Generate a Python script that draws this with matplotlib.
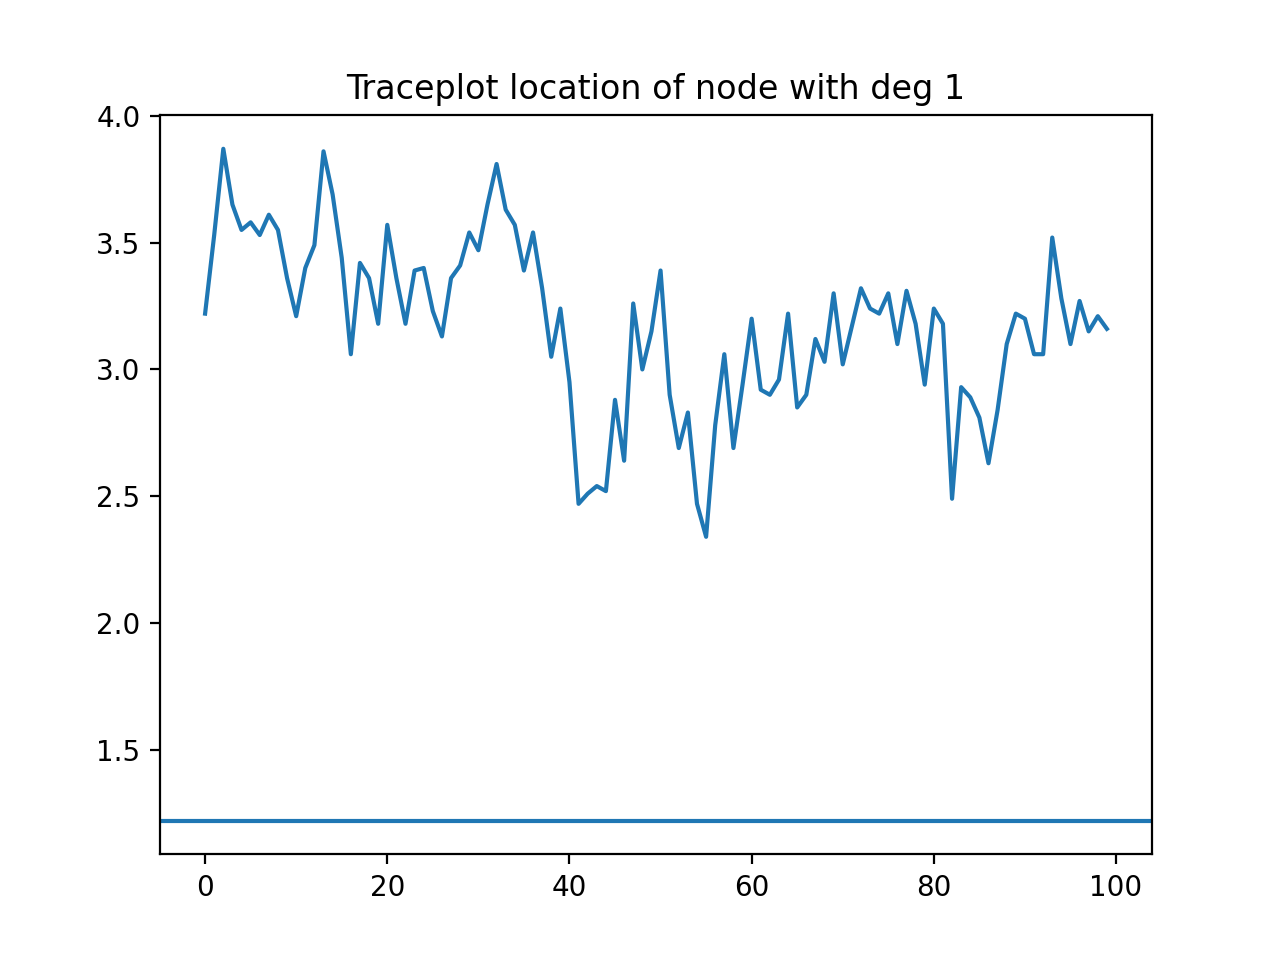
import matplotlib
matplotlib.use("Agg")
import matplotlib.pyplot as plt
import numpy as np

trace = [3.22, 3.53, 3.87, 3.65, 3.55, 3.58, 3.53, 3.61, 3.55, 3.36,
         3.21, 3.40, 3.49, 3.86, 3.69, 3.44, 3.06, 3.42, 3.36, 3.18,
         3.57, 3.36, 3.18, 3.39, 3.40, 3.23, 3.13, 3.36, 3.41, 3.54,
         3.47, 3.65, 3.81, 3.63, 3.57, 3.39, 3.54, 3.32, 3.05, 3.24,
         2.95, 2.47, 2.51, 2.54, 2.52, 2.88, 2.64, 3.26, 3.00, 3.15,
         3.39, 2.90, 2.69, 2.83, 2.47, 2.34, 2.78, 3.06, 2.69, 2.94,
         3.20, 2.92, 2.90, 2.96, 3.22, 2.85, 2.90, 3.12, 3.03, 3.30,
         3.02, 3.17, 3.32, 3.24, 3.22, 3.30, 3.10, 3.31, 3.18, 2.94,
         3.24, 3.18, 2.49, 2.93, 2.89, 2.81, 2.63, 2.84, 3.10, 3.22,
         3.20, 3.06, 3.06, 3.52, 3.28, 3.10, 3.27, 3.15, 3.21, 3.16]
true_loc = 1.22

fig = plt.figure(figsize=(6.4, 4.8), dpi=200)
plt.plot(np.arange(len(trace)), trace)
plt.axhline(true_loc)
plt.title('Traceplot location of node with deg 1')
plt.savefig('out.png')
